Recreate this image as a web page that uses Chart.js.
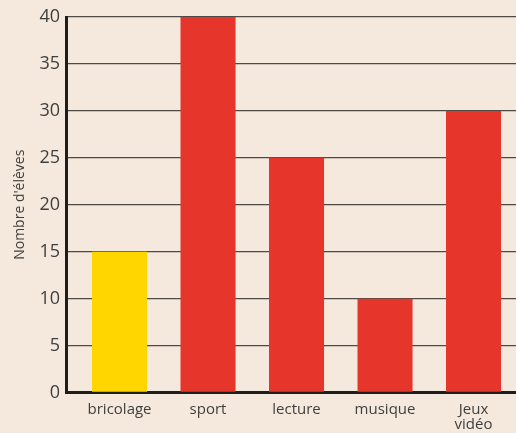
<!DOCTYPE html>
<html lang="fr">
<head>
<meta charset="UTF-8">
<title>Nombre d'élèves</title>
<script src="https://cdn.jsdelivr.net/npm/chart.js"></script>
<style>
  html, body { margin: 0; padding: 0; background: #f5e8dd; }
  .wrap { width: 516px; height: 433px; }
</style>
</head>
<body>
<div class="wrap"><canvas id="chart" width="516" height="433"></canvas></div>
<script>
  const categories = ['bricolage', 'sport', 'lecture', 'musique', ['Jeux', 'vidéo']];
  const eleves = [15, 40, 25, 10, 30];
  const barColors = ['#ffd600', '#e6352b', '#e6352b', '#e6352b', '#e6352b'];
  const yTicks = [0, 5, 10, 15, 20, 25, 30, 35, 40];

  const font = "'Open Sans', 'DejaVu Sans', sans-serif";

  new Chart(document.getElementById('chart'), {
    type: 'bar',
    data: {
      datasets: [{
        data: eleves.map((v, i) => ({ x: i, y: v })),
        backgroundColor: barColors,
        barPercentage: 1,
        categoryPercentage: 0.622
      }]
    },
    options: {
      responsive: false,
      animation: false,
      layout: { padding: { top: 17, right: 0, left: 0, bottom: 0 } },
      plugins: { legend: { display: false }, tooltip: { enabled: false } },
      scales: {
        x: {
          type: 'linear',
          offset: false,
          min: -0.605,
          max: 4.48,
          grid: { display: false, drawTicks: false, offset: false },
          border: { color: '#1e1e1e', width: 3 },
          afterBuildTicks: s => { s.ticks = categories.map((_, i) => ({ value: i })); },
          afterFit: s => { s.height = 40.5; s.paddingRight = 0; },
          ticks: {
            autoSkip: false,
            maxRotation: 0,
            padding: 9,
            color: '#3f3f3f',
            font: { family: font, size: 15, lineHeight: 1.05 },
            callback: v => categories[v]
          }
        },
        y: {
          min: 0,
          max: 40,
          afterBuildTicks: s => { s.ticks = yTicks.map(v => ({ value: v })); },
          afterFit: s => { s.width = 66; },
          grid: { color: '#4d4a47', lineWidth: 1.3, drawTicks: false },
          border: { color: '#1e1e1e', width: 3 },
          ticks: {
            padding: 6,
            color: '#3f3f3f',
            font: { family: font, size: 18 }
          },
          title: {
            display: true,
            text: "Nombre d'élèves",
            color: '#3f3f3f',
            font: { family: font, size: 14 },
            padding: { top: 12, bottom: 0 }
          }
        }
      }
    }
  });
</script>
</body>
</html>
